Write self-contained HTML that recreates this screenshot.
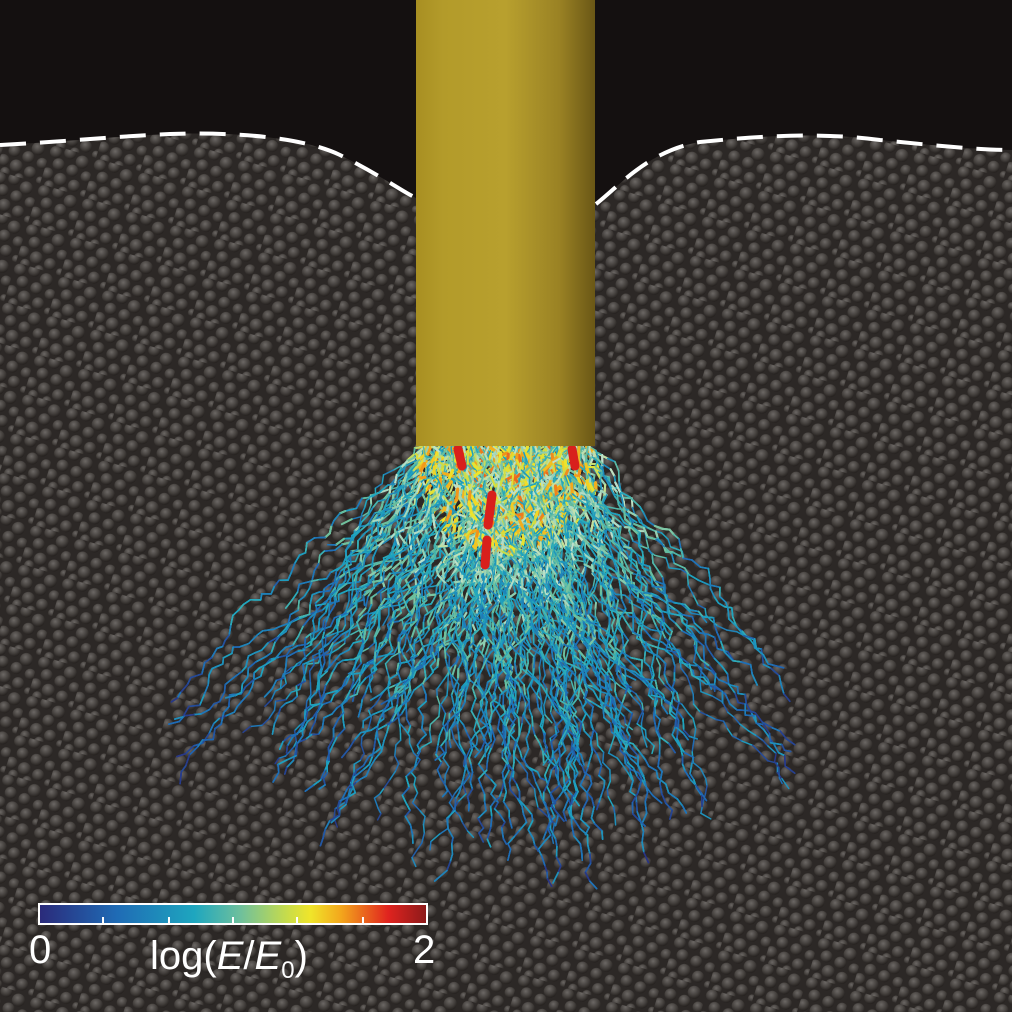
<!DOCTYPE html>
<html><head><meta charset="utf-8"><style>
html,body{margin:0;padding:0;background:#141010;}
#wrap{position:relative;width:1012px;height:1012px;overflow:hidden;}
svg{position:absolute;left:0;top:0;}
.lbl{position:absolute;color:#fff;font-family:"Liberation Sans",sans-serif;}
</style></head><body>
<div id="wrap">
<svg id="s" width="1012" height="1012">
<defs>
<radialGradient id="g" cx="0.38" cy="0.35" r="0.7">
<stop offset="0" stop-color="#6c6865"/><stop offset="0.6" stop-color="#423e3b"/><stop offset="1" stop-color="#221e1c"/>
</radialGradient>
<pattern id="grains" width="46" height="41" patternUnits="userSpaceOnUse" patternTransform="rotate(17)">
<rect width="46" height="41" fill="#2c2826"/>
<circle cx="6" cy="6" r="6" fill="url(#g)"/><circle cx="20" cy="3" r="6" fill="url(#g)"/>
<circle cx="34" cy="8" r="6.5" fill="url(#g)"/><circle cx="12" cy="17" r="6" fill="url(#g)"/>
<circle cx="27" cy="19" r="6" fill="url(#g)"/><circle cx="42" cy="21" r="5.5" fill="url(#g)"/>
<circle cx="4" cy="29" r="6" fill="url(#g)"/><circle cx="18" cy="31" r="6.5" fill="url(#g)"/>
<circle cx="33" cy="33" r="6" fill="url(#g)"/><circle cx="45" cy="38" r="4" fill="url(#g)"/>
<circle cx="9" cy="40" r="5" fill="url(#g)"/><circle cx="24" cy="42" r="5" fill="url(#g)"/>
</pattern>
<linearGradient id="cyl" x1="0" x2="1" y1="0" y2="0">
<stop offset="0" stop-color="#a88f22"/><stop offset="0.15" stop-color="#b39b2a"/>
<stop offset="0.5" stop-color="#b8a02e"/><stop offset="0.8" stop-color="#9a8224"/>
<stop offset="1" stop-color="#6a5716"/>
</linearGradient>
<linearGradient id="cbar" x1="0" x2="1" y1="0" y2="0">
<stop offset="0" stop-color="#2b2a7a"/><stop offset="0.2" stop-color="#1f6bb5"/>
<stop offset="0.4" stop-color="#1ea6bf"/><stop offset="0.52" stop-color="#6fc09c"/>
<stop offset="0.64" stop-color="#c8dc4a"/><stop offset="0.7" stop-color="#f0e52a"/>
<stop offset="0.78" stop-color="#f3a51c"/><stop offset="0.9" stop-color="#e0231f"/>
<stop offset="1" stop-color="#8b1a1a"/>
</linearGradient>
</defs>
<path d="M0,145 C60,142 120,136 170,134 C230,132 300,136 340,155 C380,175 400,190 416,198 L596,204 C620,185 650,150 700,142 C760,136 820,132 880,140 C940,146 980,150 1012,150 L1012,1012 L0,1012 Z" fill="url(#grains)"/>
<g id="chains"></g>
<rect x="416" y="0" width="179" height="446" fill="url(#cyl)"/>
<path d="M0,145 C60,142 120,136 170,134 C230,132 300,136 340,155 C380,175 400,190 416,198 M596,204 C620,185 650,150 700,142 C760,136 820,132 880,140 C940,146 980,150 1012,150" fill="none" stroke="#fff" stroke-width="4" stroke-dasharray="26,14"/>
<rect x="39" y="904" width="388" height="20" fill="url(#cbar)" stroke="#fff" stroke-width="2"/>
<g id="ticks"></g>
</svg>
<div class="lbl" style="left:29px;top:928px;font-size:40px;">0</div>
<div class="lbl" style="left:413px;top:928px;font-size:40px;">2</div>
<div class="lbl" style="left:150px;top:934px;font-size:40px;">log(<i>E</i>/<i>E</i><sub style="font-size:24px">0</sub>)</div>
</div>
<script>
const tickValues=[0.33,0.67,1.0,1.33,1.67];
const cbMin=0, cbMax=2;
const colorStops=[[0,[43,42,122]],[0.2,[31,107,181]],[0.4,[30,166,191]],[0.52,[111,192,156]],[0.58,[190,225,205]],[0.64,[200,220,74]],[0.7,[240,229,42]],[0.78,[243,165,28]],[0.9,[224,35,31]],[1,[139,26,26]]];
const NS="http://www.w3.org/2000/svg";
const tg=document.getElementById('ticks');
tickValues.forEach(v=>{
  const x=39+(v-cbMin)/(cbMax-cbMin)*388;
  const l=document.createElementNS(NS,'line');
  
  
  l.setAttribute('x1',x);l.setAttribute('x2',x);l.setAttribute('y1',917);l.setAttribute('y2',924);
  l.setAttribute('stroke','#fff');l.setAttribute('stroke-width',2);
  tg.appendChild(l);
});
function cmap(t){t=Math.max(0,Math.min(1,t));
  for(let i=1;i<colorStops.length;i++){if(t<=colorStops[i][0]){const a=colorStops[i-1],b=colorStops[i];const f=(t-a[0])/(b[0]-a[0]);
    return 'rgb('+a[1].map((c,k)=>Math.round(c+(b[1][k]-c)*f)).join(',')+')';}}
  return 'rgb(139,26,26)';}
let seed=12345;function rnd(){seed=(seed*1103515245+12345)%2147483648;return seed/2147483648;}
const cg=document.getElementById('chains');
for(let n=0;n<700;n++){
  let x=420+rnd()*170,y=447;
  let ang=Math.PI/2+(rnd()-0.5)*1.7;
  const steps=12+Math.floor(rnd()*42);
  let pts=[[x,y]];
  for(let s=0;s<steps;s++){
    const a=ang+(rnd()-0.5)*1.5;
    const L=6+rnd()*6;
    x+=Math.cos(a)*L;y+=Math.sin(a)*L;
    if(y<448)y=448;
    pts.push([x,y]);
  }
  for(let i=1;i<pts.length;i++){
    const d=Math.hypot(pts[i][0]-505,(pts[i][1]-447)*0.9);
    let t=0.55-d/1100+(rnd()-0.5)*0.32;
    if(d<100&&rnd()<0.35)t+=0.17;
    const p=document.createElementNS(NS,'line');
    
    
    p.setAttribute('x1',pts[i-1][0].toFixed(1));p.setAttribute('y1',pts[i-1][1].toFixed(1));
    p.setAttribute('x2',pts[i][0].toFixed(1));p.setAttribute('y2',pts[i][1].toFixed(1));
    p.setAttribute('stroke',cmap(t));
    p.setAttribute('stroke-width',t>0.68?3:(t>0.5?2:1.5));
    p.setAttribute('stroke-linecap','round');
    cg.appendChild(p);
  }
}
[[458,449,462,466],[572,449,575,466],[492,495,488,525],[487,540,485,565]].forEach(c=>{
  const p=document.createElementNS(NS,'line');
  
  
  p.setAttribute('x1',c[0]);p.setAttribute('y1',c[1]);p.setAttribute('x2',c[2]);p.setAttribute('y2',c[3]);
  p.setAttribute('stroke','#d8201c');p.setAttribute('stroke-width',9);p.setAttribute('stroke-linecap','round');
  cg.appendChild(p);
});
</script>
</body></html>
